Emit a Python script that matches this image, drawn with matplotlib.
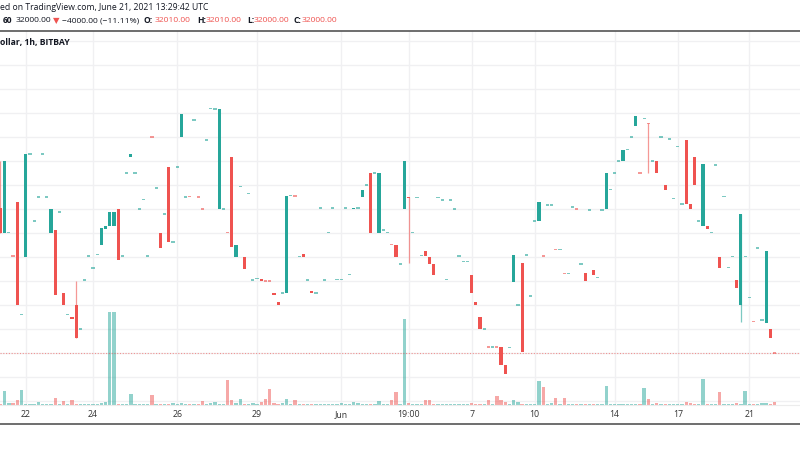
import matplotlib
matplotlib.use("Agg")
import matplotlib.pyplot as plt
from matplotlib.lines import Line2D

plt.rcParams['font.family'] = ['Open Sans', 'DejaVu Sans']

# ---------------- data ----------------
opens = [38040, 37030, 37030, 36050, 38320, 33620, 36030, 40300, 37510, 38500,
         40300, 38500, 37030, 37130, 37880, 34510, 33620, 33530, 34000, 33010,
         35040, 36040, 35540, 36120, 36510, 37190, 37310, 37310, 38030, 36040,
         39500, 40190, 39500, 38010, 38400, 36040, 41010, 38890, 37010, 37790,
         39780, 36640, 39760, 41000, 38500, 38530, 41720, 38510, 38020, 40880,
         42190, 42170, 38010, 38010, 37040, 40170, 36030, 38940, 36030, 38650,
         35040, 35110, 35080, 35020, 35020, 34510, 34140, 34510, 34530, 38570,
         38550, 36030, 36120, 35040, 34610, 34510, 38040, 35040, 37030, 38040,
         35080, 35060, 38040, 35280, 38000, 38040, 38500, 39000, 39500, 39500,
         37030, 37140, 37030, 36530, 36530, 35710, 38010, 38520, 37030, 38490,
         36060, 36260, 36030, 35710, 38490, 38390, 35060, 38390, 38010, 36040,
         35820, 35820, 35280, 34140, 33510, 33010, 32270, 32260, 32270, 32260,
         31510, 32240, 34990, 34010, 35760, 36100, 34380, 37510, 37510, 36050,
         38180, 38180, 36330, 36320, 35340, 35330, 38100, 38020, 35710, 35330,
         37960, 35460, 35150, 37960, 38010, 38810, 39500, 40000, 40000, 40490,
         41000, 41490, 39510, 41780, 41580, 40000, 40000, 41000, 39000, 40920,
         38440, 40610, 38210, 40900, 38210, 40170, 37510, 37310, 37310, 37030,
         39850, 36030, 38520, 35560, 36030, 35060, 34000, 36030, 34330, 33340,
         36380, 33380, 33250, 33010, 32010]
closes = [37030, 40000, 37040, 36040, 34000, 33630, 40310, 40310, 37520, 38510,
          40310, 38510, 38030, 34420, 37890, 34000, 33630, 33420, 32630, 33020,
          35050, 36050, 35550, 36130, 37210, 37320, 37880, 37880, 35900, 36050,
          39510, 40310, 39510, 38020, 38410, 36050, 41000, 38900, 36380, 37800,
          36620, 36650, 39770, 41990, 38510, 38520, 41730, 38500, 38010, 40890,
          42200, 42180, 42190, 38020, 37030, 36420, 36530, 38950, 35530, 38660,
          35050, 35120, 35000, 35010, 35010, 34420, 34010, 34520, 38570, 38580,
          38540, 36040, 36030, 35050, 34500, 34520, 38050, 35050, 37040, 38050,
          35090, 35070, 38050, 35290, 38060, 38050, 38810, 39010, 37030, 39510,
          39500, 37150, 37040, 36520, 36030, 35720, 40000, 38470, 37040, 38500,
          36070, 36040, 35710, 35260, 38500, 38400, 35070, 38400, 38020, 36050,
          35830, 35830, 34510, 34010, 33010, 33020, 32260, 32270, 32260, 31510,
          31140, 32250, 36080, 34020, 32070, 36110, 34390, 37520, 38310, 36040,
          38190, 38190, 36320, 36330, 35330, 35340, 38110, 38010, 35720, 35010,
          37970, 35280, 35160, 37970, 39500, 38820, 39510, 40010, 40490, 40500,
          41010, 41900, 39500, 41790, 41560, 40010, 39500, 41010, 38790, 40930,
          38450, 40620, 38220, 38210, 38000, 39000, 37520, 39890, 37190, 37040,
          39860, 35540, 38540, 35570, 36040, 34710, 37810, 36040, 34340, 33330,
          36390, 33390, 36260, 32630, 32000]
volumes = [1.5, 14, 2.3, 2.3, 5, 14.7, 1, 1, 1, 3.3,
           1, 1, 1, 7, 1, 4, 1, 4.7, 1.3, 1,
           1, 1, 1, 1, 2, 3.3, 93, 93, 1, 1,
           1, 11, 1, 1, 1.3, 1.3, 10.3, 1.3, 1, 1,
           1, 2, 1, 2, 1, 1, 1, 1, 4, 1,
           2.3, 2.7, 1, 1, 24.7, 4.7, 2.3, 6, 1, 1,
           2, 1.3, 3.3, 6, 16, 2, 1.3, 2, 6, 1,
           5.3, 1, 1, 1, 1.3, 1, 1, 1, 1, 1,
           1, 2, 1, 1, 3, 2.3, 1, 1, 1, 1,
           3.7, 1, 1, 5.3, 13, 1, 85.7, 2, 1, 1,
           1, 4.7, 5, 1.3, 1, 1, 1, 1, 1, 1,
           1, 1.3, 2.3, 1.3, 1, 1, 4.7, 1, 9, 4.7,
           3, 1, 5, 3, 1, 1, 1, 1, 23.7, 18.3,
           1, 2.3, 7.3, 1, 7.3, 1, 1, 1, 1, 1,
           1, 1, 1, 1, 18.7, 1, 1, 1, 1, 1,
           1, 1, 1.3, 16.7, 6, 1, 2.3, 1, 1, 1,
           1, 1, 1, 2.7, 2, 1, 1, 25.7, 1, 1,
           1, 13, 1, 1, 1, 2.3, 1, 13.7, 1, 1,
           1, 1.7, 1.7, 1, 2.7]
wick_index = [0, 18, 97, 154, 176]
wick_high = [40000, 35010, 38520, 41580, 37810]
wick_low = [37030, 32630, 35750, 39500, 33320]
tick_index = [6, 22, 42, 61, 81, 97, 112, 127, 146, 161, 178]
tick_labels = ['22', '24', '26', '29', 'Jun', '19:00', '7', '10', '14', '17', '21']
last_price = 32000

# ---------------- style ----------------
UP, DOWN = '#26a69a', '#ef5350'
TXT = '#131722'
W, H = 800, 450
pane_top, pane_bot = 31, 405
px_per_1000 = 24.0
y_last = 353.3
ylo = last_price - (pane_bot - y_last) / px_per_1000 * 1000
yhi = last_price + (y_last - pane_top) / px_per_1000 * 1000
xlo, xhi = -0.11, 190.05
vol_span = pane_bot - pane_top

fig = plt.figure(figsize=(W / 100, H / 100), dpi=100)
fig.patch.set_facecolor('white')
rect = [0, 1 - pane_bot / H, 1, (pane_bot - pane_top) / H]

gax = fig.add_axes(rect, zorder=0)
vax = fig.add_axes(rect, zorder=1)
ax = fig.add_axes(rect, zorder=2)
for a in (gax, vax, ax):
    a.set_xlim(xlo, xhi)
    for s in a.spines.values():
        s.set_visible(False)
vax.patch.set_alpha(0)
ax.patch.set_alpha(0)

# grid
gax.set_ylim(ylo, yhi)
for p in range(30000, 46000, 1000):
    gax.axhline(p, color='#f0f0f2', lw=1, zorder=0)
for t in tick_index:
    gax.axvline(t, color='#f0f0f2', lw=1, zorder=0)
gax.set_xticks([])
gax.set_yticks([])

# volume
vax.set_ylim(0, vol_span)
n = len(opens)
xs = list(range(n))
vcol = [UP if closes[i] >= opens[i] else DOWN for i in xs]
vax.bar(xs, volumes, width=0.78, color=vcol, alpha=0.5, linewidth=0)
vax.set_xticks([])
vax.set_yticks([])

# candles
ax.set_ylim(ylo, yhi)
tick_h = 1.5 / px_per_1000 * 1000
for i in xs:
    o, c = opens[i], closes[i]
    col = UP if c >= o else DOWN
    if abs(c - o) < 30:
        mid = (o + c) / 2
        ax.bar(i, tick_h, bottom=mid - tick_h / 2, width=0.76, color=col,
               alpha=0.6, linewidth=0, zorder=3)
    else:
        ax.bar(i, abs(c - o), bottom=min(o, c), width=0.76, color=col,
               linewidth=0, zorder=3)
for i, hi, lo in zip(wick_index, wick_high, wick_low):
    col = UP if closes[i] >= opens[i] else DOWN
    ax.vlines(i, lo, hi, color=col, lw=0.9, alpha=0.6, zorder=2)

# last price line
ax.axhline(last_price, color=DOWN, lw=0.8, ls=(0, (1, 1.5)), alpha=0.6, zorder=1)

ax.set_yticks([])
ax.set_xticks(tick_index)
ax.set_xticklabels(tick_labels, fontsize=6.3, color='#333333')
ax.tick_params(axis='x', length=0, pad=3.5)

# frame lines
fig.add_artist(Line2D([0, 1], [1 - 30.8 / H, 1 - 30.8 / H], color='#555555', lw=1.2))
fig.add_artist(Line2D([0, 1], [1 - 423.5 / H, 1 - 423.5 / H], color='#555555', lw=1.2))
fig.add_artist(Line2D([0, 1], [1 - 405 / H, 1 - 405 / H], color='#ececec', lw=0.8))

# header texts
def put(x, y, s, **kw):
    fig.text(x / W, 1 - y / H, s, ha='left', va='center', **kw)

put(0, 7.5, "ed on TradingView.com, June 21, 2021 13:29:42 UTC", fontsize=6.2, color=TXT)
fs = 6.1
put(3, 20.5, "60", fontsize=fs, color=TXT, fontweight='bold')
put(16, 20.5, "32000.00", fontsize=fs, color=TXT)
put(53, 20.5, "\u25BC", fontsize=fs, color=DOWN, family=['DejaVu Sans'])
put(62, 20.5, "\u22124000.00 (\u221211.11%)", fontsize=fs, color=TXT)
for lab, x0, val, x1 in [("O:", 144, "32010.00", 155), ("H:", 197, "32010.00", 206),
                         ("L:", 247, "32000.00", 254), ("C:", 294, "32000.00", 302)]:
    put(x0, 20.5, lab, fontsize=fs, color=TXT, fontweight='bold')
    put(x1, 20.5, val, fontsize=fs, color=DOWN)
put(0, 42.5, "ollar, 1h, BITBAY", fontsize=6.2, color=TXT, fontweight='bold')

fig.savefig('out.png', dpi=100)
